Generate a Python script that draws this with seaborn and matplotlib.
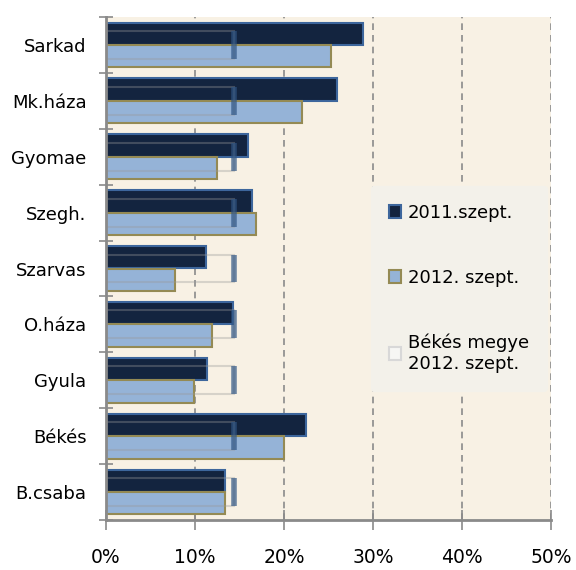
import numpy as np
import pandas as pd
import matplotlib
matplotlib.use('Agg')
import matplotlib.pyplot as plt
import seaborn as sns
from matplotlib.patches import Patch
from matplotlib.ticker import PercentFormatter, FixedLocator

# data (percent)
towns = ['Sarkad', 'Mk.háza', 'Gyomae', 'Szegh.', 'Szarvas',
         'O.háza', 'Gyula', 'Békés', 'B.csaba']
sep_2011 = [28.9, 26.0, 16.0, 16.4, 11.2, 14.3, 11.4, 22.5, 13.4]
sep_2012 = [25.3, 22.0, 12.5, 16.8, 7.8, 11.9, 9.9, 20.0, 13.4]
megye_2012 = [14.4] * len(towns)

series_names = ['2011.szept.', '2012. szept.']
megye_name = 'Békés megye\n2012. szept.'

dark_fill, dark_edge = '#13243f', '#3d669c'
light_fill, light_edge = '#95b3d7', '#948a54'
bg = '#f8f1e4'
grey = '#8a8a8a'

df = pd.DataFrame({
    'town': towns * 2,
    'value': sep_2011 + sep_2012,
    'series': [series_names[0]] * len(towns) + [series_names[1]] * len(towns),
})

sns.set_style('white')
plt.rcParams['font.family'] = ['DejaVu Sans']
plt.rcParams['text.color'] = 'black'

fig = plt.figure(figsize=(5.76, 5.70), dpi=100)
ax = fig.add_axes([106 / 576, 50 / 570, 445 / 576, 503 / 570])
ax.set_facecolor(bg)

sns.barplot(data=df, x='value', y='town', hue='series', order=towns,
            hue_order=series_names, palette=[dark_fill, light_fill],
            orient='h', width=0.8, saturation=1, legend=False, ax=ax, zorder=3)

for cont, ec in zip(ax.containers, [dark_edge, light_edge]):
    for p in cont:
        p.set_edgecolor(ec)
        p.set_linewidth(1.5)

# county average marker: faint box with a thick dark end
pos = np.arange(len(towns))
ax.barh(pos, megye_2012, height=0.5, color='none',
        edgecolor=(0.6, 0.6, 0.6, 0.35), linewidth=1.5, zorder=4)
ax.vlines(megye_2012, pos - 0.25, pos + 0.25, color='#2f5584', lw=4,
          alpha=0.7, zorder=5)

ax.set_xlim(0, 50)
ax.set_ylim(len(towns) - 0.5, -0.5)
ax.xaxis.set_major_locator(FixedLocator([0, 10, 20, 30, 40, 50]))
ax.xaxis.set_major_formatter(PercentFormatter(decimals=0))
ax.set_xlabel('')
ax.set_ylabel('')

# category boundaries as ticks, names in the middle
ax.set_yticks(np.arange(-0.5, len(towns), 1))
ax.set_yticklabels([])
ax.set_yticks(pos, minor=True)
ax.set_yticklabels(towns, minor=True)
ax.tick_params(axis='y', which='major', direction='inout', length=10,
               width=1.2, color=grey, left=True)
ax.tick_params(axis='y', which='minor', length=0, pad=14, labelsize=13,
               labelcolor='black')
ax.tick_params(axis='x', direction='inout', length=14, width=1.2,
               color=grey, bottom=True, pad=13, labelsize=13.5,
               labelcolor='black')

for x in [10, 20, 30, 40, 50]:
    ax.axvline(x, color=grey, lw=1.2, ls=(0, (4, 3)), zorder=1)

for s in ['top', 'right']:
    ax.spines[s].set_visible(False)
for s in ['left', 'bottom']:
    ax.spines[s].set_color(grey)
    ax.spines[s].set_linewidth(2)
    ax.spines[s].set_zorder(6)

handles = [
    Patch(facecolor=dark_fill, edgecolor=dark_edge, linewidth=1.5),
    Patch(facecolor=light_fill, edgecolor=light_edge, linewidth=1.5),
    Patch(facecolor='#f6f6f4', edgecolor='#d8d8d8', linewidth=1.5),
]
leg = ax.legend(handles, series_names + [megye_name], loc='upper left',
                bbox_to_anchor=(0.595, 0.665), frameon=True, fontsize=13,
                handlelength=0.7, handleheight=0.7, handletextpad=0.35,
                labelspacing=2.6, borderpad=1.0, borderaxespad=0)
leg.get_frame().set_facecolor('#f3f1ea')
leg.get_frame().set_edgecolor('#f3f1ea')
leg.get_frame().set_alpha(1)
leg.set_zorder(7)

fig.savefig('out.png', dpi=100)
